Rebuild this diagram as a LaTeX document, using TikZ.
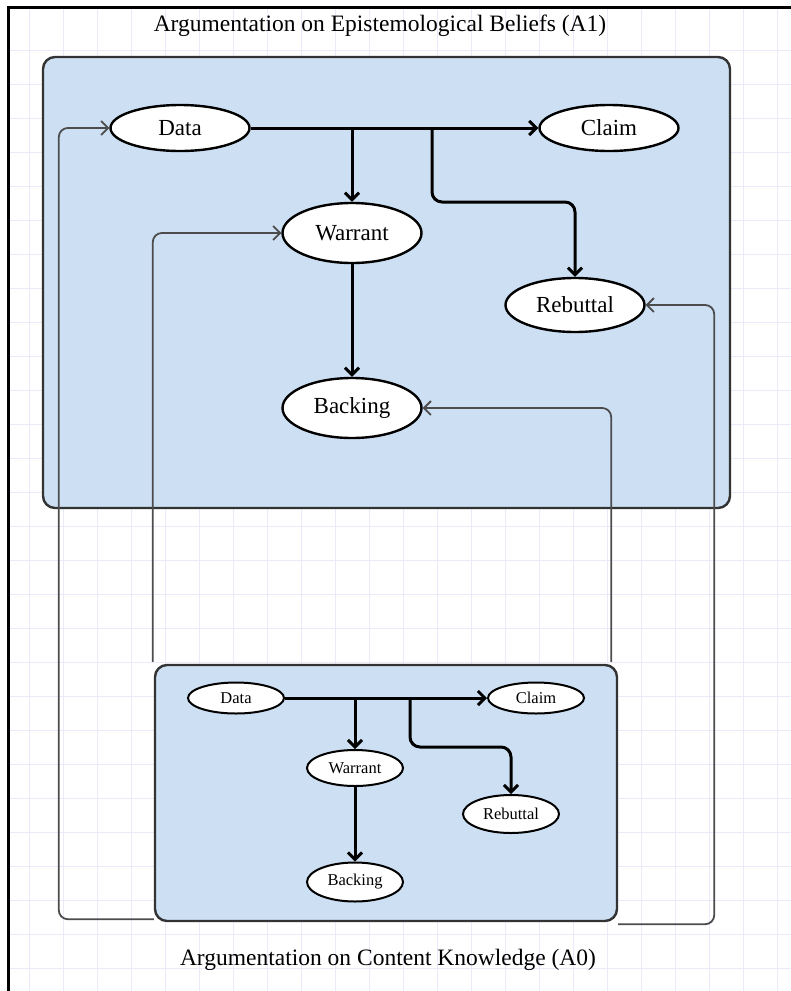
\documentclass[tikz,border=0pt]{standalone}
\usepackage{fontspec}
\setmainfont{Liberation Serif}
\usetikzlibrary{shapes.geometric,arrows.meta}
\definecolor{panelblue}{RGB}{205,224,243}
\definecolor{gridblue}{RGB}{234,234,250}
\begin{document}
\begin{tikzpicture}
  [x=1pt,y=-1pt,>={Straight Barb[length=7pt,width=14pt]},
  arg/.style={ellipse,draw,line width=2.4pt,fill=white,inner sep=0pt,
    minimum width=139pt,minimum height=46pt,font=\fontsize{23}{27}\selectfont},
  sarg/.style={arg,line width=2pt,minimum width=96pt,minimum height=36pt,
    font=\fontsize{16.5}{19}\selectfont},
  panel/.style={draw=black!80,line width=2.4pt,fill=panelblue,rounded corners=12pt,inner sep=0pt},
  main/.style={->,line width=3pt,rounded corners=10pt},
  fb/.style={->,draw=black!70,line width=1.8pt,rounded corners=9pt},
  title/.style={font=\fontsize{23.5}{27}\selectfont}]
  \useasboundingbox (0,0) rectangle (791,991);
  \foreach \gx in {29,63,...,791}
    \draw[gridblue,line width=1pt] (\gx,9) -- (\gx,991);
  \foreach \gy in {50,84,...,991}
    \draw[gridblue,line width=1pt] (9,\gy) -- (791,\gy);
  \draw[line width=3pt] (8.5,991) -- (8.5,7) -- (791,7);

  \node[title] (t1) at (380,26) {Argumentation on Epistemological Beliefs (A1)};
  \node[title] (t0) at (388,960) {Argumentation on Content Knowledge (A0)};
  \node[panel,minimum width=687pt,minimum height=451pt] (a1) at (386.5,282.5) {};
  \node[panel,minimum width=462pt,minimum height=256pt] (a0) at (386,793) {};

  \node[arg] (d1) at (180,128) {Data};
  \node[arg] (c1) at (609,128) {Claim};
  \node[arg,minimum height=60pt] (w1) at (352,233) {Warrant};
  \node[arg,minimum height=54pt] (r1) at (575,305) {Rebuttal};
  \node[arg,minimum height=60pt] (b1) at (352,408) {Backing};

  \node[sarg,minimum height=31pt] (d0) at (236,698) {Data};
  \node[sarg,minimum height=31pt] (c0) at (536,698) {Claim};
  \node[sarg] (w0) at (355,768) {Warrant};
  \node[sarg,minimum height=38pt] (r0) at (511,814) {Rebuttal};
  \node[sarg,minimum height=39pt] (b0) at (355,882) {Backing};

  \coordinate (s1) at (432,128);
  \coordinate (s0) at (410,698);

  \foreach \from/\to in {d1/c1,w1/b1,d0/c0,w0/b0}
    \draw[main] (\from) -- (\to);
  \draw[main] (d1.east -| w1) -- (w1);
  \draw[main] (s1) -- ++(0,74) -| (r1);
  \draw[main] (d0.east -| w0) -- (w0);
  \draw[main] (s0) -- ++(0,49) -| (r0);

  \draw[fb] ([yshift=3pt]a0.south west) -- ++(-95,0) |- (d1);
  \draw[fb] ([xshift=-1pt,yshift=2pt]a0.north west) |- (w1);
  \draw[fb] ([xshift=-7pt,yshift=2pt]a0.north east) |- (b1);
  \draw[fb] ([yshift=-2pt]a0.south east) -- ++(96,0) |- (r1);
\end{tikzpicture}
\end{document}
